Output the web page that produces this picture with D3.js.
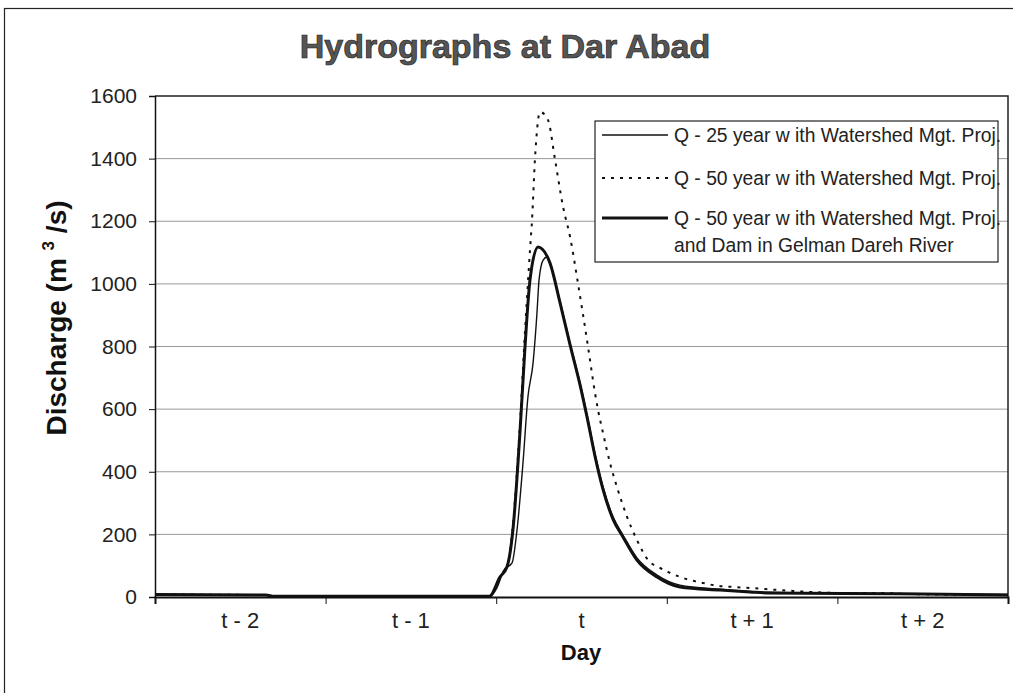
<!DOCTYPE html>
<html>
<head>
<meta charset="utf-8">
<script src="https://cdn.jsdelivr.net/npm/d3@7"></script>
<style>
  body { margin: 0; background: #fff; }
  text { font-family: "Liberation Sans", Arial, sans-serif; fill: #111; }
  .grid line { stroke: #999; stroke-width: 1; }
  .axis path, .axis line { stroke: #111; }
</style>
</head>
<body>
<svg id="chart"></svg>
<script>
// x values are days from the start of "t - 2", y values are discharge in m3/s
var dayLabels = ["t - 2", "t - 1", "t", "t + 1", "t + 2"];
var yTicks = [0, 200, 400, 600, 800, 1000, 1200, 1400, 1600];

var q25 = [[0, 8], [0.65, 6], [0.7, 2], [1.96, 2], [2.005, 30], [2.045, 86], [2.093, 109],
	[2.122, 214], [2.157, 428], [2.186, 639], [2.216, 747], [2.239, 907], [2.251, 1012],
	[2.275, 1076], [2.298, 1086], [2.315, 1067], [2.374, 945], [2.433, 810], [2.491, 685],
	[2.538, 568], [2.579, 458], [2.626, 352], [2.685, 256], [2.743, 198], [2.825, 125],
	[2.943, 70], [3.077, 38], [3.312, 25], [3.488, 18], [3.587, 15], [4.367, 10], [5, 8]];

var q50 = [[0, 8], [0.65, 6], [0.7, 2], [1.96, 2], [2.022, 64], [2.063, 96], [2.098, 230],
	[2.14, 560], [2.169, 850], [2.186, 1003], [2.198, 1108], [2.21, 1204], [2.227, 1396],
	[2.257, 1549], [2.304, 1523], [2.345, 1396], [2.392, 1246], [2.433, 1150], [2.479, 1003],
	[2.538, 800], [2.579, 652], [2.597, 597], [2.626, 524], [2.667, 428], [2.708, 351],
	[2.767, 256], [2.825, 182], [2.89, 118], [2.96, 93], [3.019, 77], [3.136, 54], [3.212, 45],
	[3.271, 38], [3.388, 32], [3.488, 29], [3.664, 22], [4.033, 13], [4.291, 13], [4.367, 10], [5, 6]];

var q50Dam = [[0, 8], [0.65, 6], [0.7, 2], [1.96, 2], [2.022, 64], [2.063, 96], [2.098, 214],
	[2.14, 533], [2.169, 800], [2.198, 1012], [2.245, 1118], [2.315, 1067], [2.374, 940],
	[2.433, 805], [2.491, 678], [2.538, 560], [2.579, 450], [2.626, 344], [2.685, 248],
	[2.743, 192], [2.825, 118], [2.943, 64], [3.077, 32], [3.312, 22], [3.488, 16],
	[3.587, 13], [4.367, 10], [5, 6]];

var seriesNames = ["Q - 25 year w ith Watershed Mgt. Proj.",
	"Q - 50 year w ith Watershed Mgt. Proj.",
	"Q - 50 year w ith Watershed Mgt. Proj.|and Dam in Gelman Dareh River"];

var W = 1013, H = 693;
var margin = {top: 96, right: 5, bottom: 96, left: 155};
var width = 1008 - margin.left,
	height = 597 - margin.top;

var svg = d3.select("#chart").attr("width", W).attr("height", H);

// outer chart border
svg.append("rect")
	.attr("x", 4.5).attr("y", 8.5)
	.attr("width", W + 20).attr("height", H + 20)
	.attr("fill", "none").attr("stroke", "#222").attr("stroke-width", 1.2);

svg.append("text")
	.attr("x", 505).attr("y", 58)
	.attr("text-anchor", "middle")
	.style("font-size", "34px").style("font-weight", "bold")
	.style("fill", "#555").style("stroke", "#222").style("stroke-width", 0.7)
	.text("Hydrographs at Dar Abad");

var g = svg.append("g")
	.attr("transform", "translate(" + margin.left + "," + margin.top + ")");

var x = d3.scaleLinear().domain([0, 5]).range([0, width]);
var y = d3.scaleLinear().domain([0, 1600]).range([height, 0]);

// gridlines
g.append("g").attr("class", "grid")
	.selectAll("line").data(yTicks.filter(function (d) { return d > 0 && d < 1600; }))
	.enter().append("line")
		.attr("x1", 0).attr("x2", width)
		.attr("y1", function (d) { return y(d); })
		.attr("y2", function (d) { return y(d); });

// plot area border (top and right)
g.append("path")
	.attr("d", "M0,0H" + width + "V" + height)
	.attr("fill", "none").attr("stroke", "#222").attr("stroke-width", 1.5);

var yAxis = g.append("g").attr("class", "axis")
	.call(d3.axisLeft(y).tickValues(yTicks).tickFormat(d3.format("d")).tickSize(6).tickPadding(12));
yAxis.selectAll("text").style("font-size", "21px").style("fill", "#222");
yAxis.select(".domain").attr("stroke-width", 1.5);

var xAxis = g.append("g").attr("class", "axis")
	.attr("transform", "translate(0," + height + ")")
	.call(d3.axisBottom(x).tickValues(d3.range(0, 6)).tickSize(7).tickFormat(""));
xAxis.select(".domain").attr("stroke-width", 2);

g.selectAll(".xlab").data(dayLabels).enter().append("text")
	.attr("class", "xlab")
	.attr("x", function (d, i) { return x(i + 0.5); })
	.attr("y", height + 31)
	.attr("text-anchor", "middle")
	.style("font-size", "22px").style("fill", "#222")
	.text(function (d) { return d; });

svg.append("text")
	.attr("x", 581).attr("y", 660)
	.attr("text-anchor", "middle")
	.style("font-size", "22px").style("font-weight", "bold")
	.text("Day");

var yt = svg.append("text")
	.attr("transform", "translate(66,318) rotate(-90)")
	.attr("text-anchor", "middle")
	.style("font-size", "28px").style("font-weight", "bold");
yt.append("tspan").text("Discharge (m ");
yt.append("tspan").attr("dy", -12).style("font-size", "17px").text("3");
yt.append("tspan").attr("dy", 12).text(" /s)");

var line = d3.line()
	.x(function (d) { return x(d[0]); })
	.y(function (d) { return y(d[1]); })
	.curve(d3.curveMonotoneX);

var styles = [
	{width: 1.4, dash: null},
	{width: 2, dash: "3,6"},
	{width: 3, dash: null}
];

[q25, q50, q50Dam].forEach(function (s, i) {
	g.append("path")
		.datum(s)
		.attr("d", line)
		.attr("fill", "none")
		.attr("stroke", "#111")
		.attr("stroke-width", styles[i].width)
		.attr("stroke-dasharray", styles[i].dash);
});

// legend
var legend = svg.append("g").attr("transform", "translate(595,121)");
legend.append("rect")
	.attr("width", 403).attr("height", 141)
	.attr("fill", "#fff").attr("stroke", "#222").attr("stroke-width", 1.2);

var rowY = [14, 57, 97];
seriesNames.forEach(function (name, i) {
	legend.append("line")
		.attr("x1", 7).attr("x2", 73)
		.attr("y1", rowY[i]).attr("y2", rowY[i])
		.attr("stroke", "#111")
		.attr("stroke-width", styles[i].width)
		.attr("stroke-dasharray", styles[i].dash);
	name.split("|").forEach(function (part, j) {
		legend.append("text")
			.attr("x", 79).attr("y", rowY[i] + 7 + j * 27)
			.style("font-size", "19.3px").style("fill", "#222")
			.text(part);
	});
});
</script>
</body>
</html>
